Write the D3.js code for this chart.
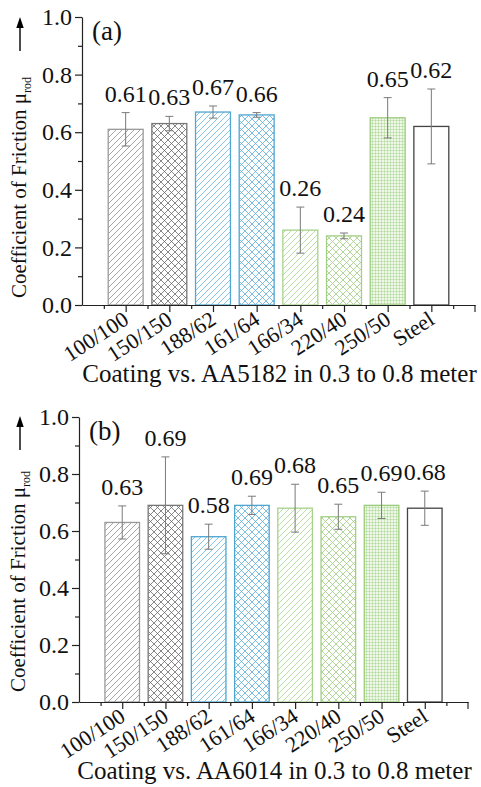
<!DOCTYPE html>
<html>
<head>
<meta charset="utf-8">
<script src="https://cdn.jsdelivr.net/npm/d3@7"></script>
<style>
  body { margin: 0; background: #fff; }
  svg text { font-family: 'Liberation Serif', 'Times New Roman', 'DejaVu Serif', serif; fill: #111; }
</style>
</head>
<body>
<div id="chart"></div>
<script>
// data
var categories = ["100/100", "150/150", "188/62", "161/64", "166/34", "220/40", "250/50", "Steel"];
var muA = [0.61, 0.63, 0.67, 0.66, 0.26, 0.24, 0.65, 0.62];
var errA = [0.058, 0.025, 0.021, 0.008, 0.08, 0.01, 0.07, 0.13];
var muB = [0.63, 0.69, 0.58, 0.69, 0.68, 0.65, 0.69, 0.68];
var errB = [0.058, 0.17, 0.044, 0.032, 0.084, 0.044, 0.046, 0.06];
var yTicks = [0, 0.2, 0.4, 0.6, 0.8, 1.0];
var yMinor = [0.1, 0.3, 0.5, 0.7, 0.9];

// fill pattern and outline per bar
var barStyle = [
  { fill: "url(#hatchGrey)", stroke: "#9a9a9a" },
  { fill: "url(#crossGrey)", stroke: "#777" },
  { fill: "url(#hatchBlue)", stroke: "#4fa6cf" },
  { fill: "url(#crossBlue)", stroke: "#4fa6cf" },
  { fill: "url(#hatchGreen)", stroke: "#a6d28a" },
  { fill: "url(#crossGreen)", stroke: "#a2cf85" },
  { fill: "url(#gridGreen)", stroke: "#9ccb7d" },
  { fill: "#fff", stroke: "#444" }
];

var svgWidth = 481;
var svgHeight = 787;

var svg = d3.select("#chart")
  .append("svg")
  .attr("width", svgWidth)
  .attr("height", svgHeight);

var defs = svg.append("defs");

function hatch(id, color, size, cross) {
  var p = defs.append("pattern")
    .attr("id", id)
    .attr("patternUnits", "userSpaceOnUse")
    .attr("width", size)
    .attr("height", size);
  var d = `M-1,1 l2,-2 M0,${size} l${size},-${size} M${size - 1},${size + 1} l2,-2`;
  if (cross) d += ` M-1,${size - 1} l2,2 M0,0 l${size},${size} M${size - 1},-1 l2,2`;
  p.append("path")
    .attr("d", d)
    .attr("stroke", color)
    .attr("stroke-width", 0.8)
    .attr("fill", "none");
}
hatch("hatchGrey", "#8f8f8f", 6, false);
hatch("crossGrey", "#6a6a6a", 7, true);
hatch("hatchBlue", "#68b6dc", 6, false);
hatch("crossBlue", "#5aaed8", 7, true);
hatch("hatchGreen", "#aad48f", 6, false);
hatch("crossGreen", "#9fcd80", 7, true);

var grid = defs.append("pattern")
  .attr("id", "gridGreen")
  .attr("patternUnits", "userSpaceOnUse")
  .attr("width", 3)
  .attr("height", 3);
grid.append("rect").attr("width", 3).attr("height", 3).attr("fill", "#eef7e8");
grid.append("path")
  .attr("d", "M0,0 H3 M0,0 V3")
  .attr("stroke", "#8cc56b")
  .attr("stroke-width", 0.7);

function drawPanel(p) {
  var x = d3.scaleLinear().domain([0, 9]).range([p.left, p.right]);
  var y = d3.scaleLinear().domain([0, 1]).range([p.bottom, p.top]);
  var g = svg.append("g");
  var rows = categories.map((c, i) => ({ cat: c, pos: i + 1, mu: p.mu[i], err: p.err[i], style: barStyle[i] }));

  // bars
  g.selectAll("rect.bar")
    .data(rows)
    .enter()
    .append("rect")
    .attr("class", "bar")
    .attr("x", d => x(d.pos - 0.4))
    .attr("width", d => x(d.pos + 0.4) - x(d.pos - 0.4))
    .attr("y", d => y(d.mu))
    .attr("height", d => y(0) - y(d.mu))
    .attr("fill", d => d.style.fill)
    .attr("stroke", d => d.style.stroke)
    .attr("stroke-width", 1.3);

  // error bars
  var eb = g.selectAll("g.err")
    .data(rows)
    .enter()
    .append("g")
    .attr("stroke", "#7a7a7a")
    .attr("stroke-width", 1);
  eb.append("line")
    .attr("x1", d => x(d.pos)).attr("x2", d => x(d.pos))
    .attr("y1", d => y(d.mu - d.err)).attr("y2", d => y(d.mu + d.err));
  eb.append("line")
    .attr("x1", d => x(d.pos) - 4).attr("x2", d => x(d.pos) + 4)
    .attr("y1", d => y(d.mu + d.err)).attr("y2", d => y(d.mu + d.err));
  eb.append("line")
    .attr("x1", d => x(d.pos) - 4).attr("x2", d => x(d.pos) + 4)
    .attr("y1", d => y(d.mu - d.err)).attr("y2", d => y(d.mu - d.err));

  // value labels
  g.selectAll("text.val")
    .data(rows)
    .enter()
    .append("text")
    .attr("class", "val")
    .attr("x", d => x(d.pos))
    .attr("y", d => y(d.mu + d.err) - 11)
    .attr("text-anchor", "middle")
    .attr("font-size", 24)
    .text(d => d.mu.toFixed(2));

  // y axis
  var yAxis = d3.axisLeft(y).tickValues(yTicks).tickFormat(d3.format(".1f")).tickSize(7).tickPadding(3).tickSizeOuter(0);
  var ya = g.append("g").attr("transform", `translate(${p.left},0)`).call(yAxis);
  ya.attr("font-family", null);
  ya.selectAll("text").attr("font-size", 24);
  g.append("g").attr("transform", `translate(${p.left},0)`)
    .call(d3.axisLeft(y).tickValues(yMinor).tickSize(4).tickFormat("").tickSizeOuter(0))
    .select(".domain").remove();

  // x axis
  var xAxis = d3.axisBottom(x).tickValues(d3.range(1, 9)).tickFormat(d => categories[d - 1]).tickSize(7).tickSizeOuter(0);
  var xa = g.append("g").attr("transform", `translate(0,${p.bottom})`).call(xAxis);
  xa.attr("font-family", null);
  xa.selectAll("text")
    .attr("font-size", 22)
    .attr("text-anchor", "end")
    .attr("dy", 0)
    .attr("y", 0)
    .attr("transform", "translate(4,18) rotate(-33)");
  g.append("g").attr("transform", `translate(0,${p.bottom})`)
    .call(d3.axisBottom(x).tickValues(d3.range(0.5, 9.5, 1)).tickSize(4).tickFormat("").tickSizeOuter(0))
    .select(".domain").remove();
  g.append("line")
    .attr("x1", x(9)).attr("x2", x(9))
    .attr("y1", p.bottom).attr("y2", p.bottom + 7)
    .attr("stroke", "#000");

  g.selectAll(".domain, .tick line").attr("stroke", "#222").attr("stroke-width", 1.2);

  // panel letter
  g.append("text")
    .attr("x", x(0) + 10)
    .attr("y", p.top + 23)
    .attr("font-size", 27)
    .text(p.letter);

  // y title with arrow
  var yt = g.append("text")
    .attr("transform", `translate(${p.titleX},${p.titleBottom}) rotate(-90)`)
    .attr("font-size", 21)
    .text("Coefficient of Friction \u03bc");
  yt.append("tspan").attr("font-size", 12).attr("dy", 5).text("rod");
  g.append("line")
    .attr("x1", 20).attr("x2", 20)
    .attr("y1", p.arrowBottom).attr("y2", p.arrowBottom - 24)
    .attr("stroke", "#000").attr("stroke-width", 1.4);
  g.append("path")
    .attr("d", `M20,${p.arrowBottom - 34} L16.3,${p.arrowBottom - 23} L23.7,${p.arrowBottom - 23} Z`)
    .attr("fill", "#000");

  // x title
  g.append("text")
    .attr("x", (p.left + p.right) / 2 + 1)
    .attr("y", p.xTitleY)
    .attr("text-anchor", "middle")
    .attr("font-size", 25)
    .text(p.xTitle);
}

drawPanel({
  mu: muA, err: errA, letter: "(a)",
  left: 82, right: 475, top: 17, bottom: 305,
  titleX: 26, titleBottom: 298, arrowBottom: 51,
  xTitleY: 382, xTitle: "Coating vs. AA5182 in 0.3 to 0.8 meter"
});

drawPanel({
  mu: muB, err: errB, letter: "(b)",
  left: 79, right: 468, top: 417, bottom: 702,
  titleX: 25, titleBottom: 692, arrowBottom: 450,
  xTitleY: 779, xTitle: "Coating vs. AA6014 in 0.3 to 0.8 meter"
});
</script>
</body>
</html>
